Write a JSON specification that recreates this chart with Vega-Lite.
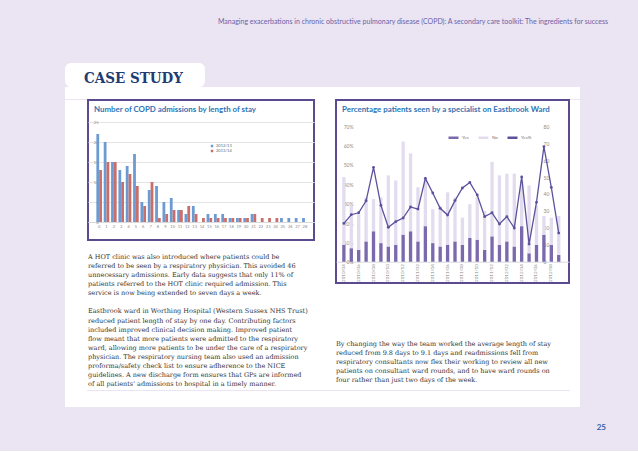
{
  "$schema": "https://vega.github.io/schema/vega-lite/v6.json",
  "background": "#ebe4f3",
  "padding": {"left": 65, "top": 18, "right": 30, "bottom": 19},
  "title": {
    "text": "Managing exacerbations in chronic obstructive pulmonary disease (COPD): A secondary care toolkit: The ingredients for success",
    "anchor": "end", "orient": "top", "offset": 38, "dx": 2,
    "font": "Lato", "fontSize": 7, "fontWeight": "normal", "color": "#6a63a8"
  },
  "config": {
    "view": {"stroke": null},
    "font": "Lato",
    "axis": {"labelFont": "Lato"},
    "legend": {"labelFont": "Lato"}
  },
  "datasets": {
    "tab": [{"label": "CASE STUDY", "slot": "tab"}],
    "los": [
      {"los": 0, "year": "2012/13", "n": 22}, {"los": 0, "year": "2013/14", "n": 13},
      {"los": 1, "year": "2012/13", "n": 20}, {"los": 1, "year": "2013/14", "n": 15},
      {"los": 2, "year": "2012/13", "n": 15}, {"los": 2, "year": "2013/14", "n": 15},
      {"los": 3, "year": "2012/13", "n": 13}, {"los": 3, "year": "2013/14", "n": 10},
      {"los": 4, "year": "2012/13", "n": 14}, {"los": 4, "year": "2013/14", "n": 12},
      {"los": 5, "year": "2012/13", "n": 17}, {"los": 5, "year": "2013/14", "n": 9},
      {"los": 6, "year": "2012/13", "n": 5}, {"los": 6, "year": "2013/14", "n": 4},
      {"los": 7, "year": "2012/13", "n": 8}, {"los": 7, "year": "2013/14", "n": 10},
      {"los": 8, "year": "2012/13", "n": 9}, {"los": 8, "year": "2013/14", "n": 1},
      {"los": 9, "year": "2012/13", "n": 5}, {"los": 9, "year": "2013/14", "n": 2},
      {"los": 10, "year": "2012/13", "n": 6}, {"los": 10, "year": "2013/14", "n": 3},
      {"los": 11, "year": "2012/13", "n": 3}, {"los": 11, "year": "2013/14", "n": 3},
      {"los": 12, "year": "2012/13", "n": 2}, {"los": 12, "year": "2013/14", "n": 4},
      {"los": 13, "year": "2012/13", "n": 4}, {"los": 13, "year": "2013/14", "n": 2},
      {"los": 14, "year": "2013/14", "n": 1},
      {"los": 15, "year": "2012/13", "n": 2}, {"los": 15, "year": "2013/14", "n": 1},
      {"los": 16, "year": "2012/13", "n": 2}, {"los": 16, "year": "2013/14", "n": 1},
      {"los": 17, "year": "2012/13", "n": 2}, {"los": 17, "year": "2013/14", "n": 1},
      {"los": 18, "year": "2012/13", "n": 1}, {"los": 18, "year": "2013/14", "n": 1},
      {"los": 19, "year": "2012/13", "n": 1}, {"los": 19, "year": "2013/14", "n": 1},
      {"los": 20, "year": "2012/13", "n": 1}, {"los": 20, "year": "2013/14", "n": 1},
      {"los": 21, "year": "2012/13", "n": 2}, {"los": 21, "year": "2013/14", "n": 2},
      {"los": 22, "year": "2013/14", "n": 1},
      {"los": 23, "year": "2013/14", "n": 1},
      {"los": 24, "year": "2013/14", "n": 1},
      {"los": 25, "year": "2012/13", "n": 1},
      {"los": 26, "year": "2012/13", "n": 1},
      {"los": 27, "year": "2012/13", "n": 1},
      {"los": 28, "year": "2012/13", "n": 1}
    ],
    "ward": [
      {"month": "2010/04", "Yes": 10, "No": 40, "YesPct": 19.8},
      {"month": "2010/05", "Yes": 8, "No": 25, "YesPct": 24.3},
      {"month": "2010/06", "Yes": 7, "No": 21, "YesPct": 25.3},
      {"month": "2010/07", "Yes": 12, "No": 26, "YesPct": 31.5},
      {"month": "2010/08", "Yes": 18, "No": 19, "YesPct": 48.8},
      {"month": "2010/09", "Yes": 11, "No": 27, "YesPct": 29.1},
      {"month": "2010/10", "Yes": 9, "No": 42, "YesPct": 17.8},
      {"month": "2010/11", "Yes": 10, "No": 38, "YesPct": 20.7},
      {"month": "2010/12", "Yes": 16, "No": 55, "YesPct": 22.6},
      {"month": "2011/01", "Yes": 18, "No": 46, "YesPct": 28.3},
      {"month": "2011/02", "Yes": 12, "No": 32, "YesPct": 27.2},
      {"month": "2011/03", "Yes": 21, "No": 28, "YesPct": 43.1},
      {"month": "2011/04", "Yes": 11, "No": 20, "YesPct": 35.5},
      {"month": "2011/05", "Yes": 9, "No": 24, "YesPct": 27.6},
      {"month": "2011/06", "Yes": 10, "No": 31, "YesPct": 24.1},
      {"month": "2011/07", "Yes": 12, "No": 26, "YesPct": 31.6},
      {"month": "2011/08", "Yes": 10, "No": 16, "YesPct": 38.1},
      {"month": "2011/09", "Yes": 14, "No": 20, "YesPct": 41.0},
      {"month": "2011/10", "Yes": 13, "No": 25, "YesPct": 34.5},
      {"month": "2011/11", "Yes": 7, "No": 23, "YesPct": 23.3},
      {"month": "2011/12", "Yes": 15, "No": 44, "YesPct": 25.3},
      {"month": "2012/01", "Yes": 10, "No": 41, "YesPct": 19.5},
      {"month": "2012/02", "Yes": 12, "No": 40, "YesPct": 23.3},
      {"month": "2012/03", "Yes": 9, "No": 43, "YesPct": 17.4},
      {"month": "2012/04", "Yes": 21, "No": 27, "YesPct": 43.8},
      {"month": "2012/05", "Yes": 5, "No": 40, "YesPct": 9.1},
      {"month": "2012/06", "Yes": 10, "No": 23, "YesPct": 30.7},
      {"month": "2012/07", "Yes": 16, "No": 11, "YesPct": 59.5},
      {"month": "2012/08", "Yes": 10, "No": 16, "YesPct": 38.4},
      {"month": "2012/09", "Yes": 4, "No": 23, "YesPct": 14.8}
    ],
    "leftText": [
      {"block": "left", "line": 1, "text": "A HOT clinic was also introduced where patients could be"},
      {"block": "left", "line": 2, "text": "referred to be seen by a respiratory physician. This avoided 46"},
      {"block": "left", "line": 3, "text": "unnecessary admissions. Early data suggests that only 11% of"},
      {"block": "left", "line": 4, "text": "patients referred to the HOT clinic required admission. This"},
      {"block": "left", "line": 5, "text": "service is now being extended to seven days a week."},
      {"block": "left", "line": 6, "text": ""},
      {"block": "left", "line": 7, "text": "Eastbrook ward in Worthing Hospital (Western Sussex NHS Trust)"},
      {"block": "left", "line": 8, "text": "reduced patient length of stay by one day. Contributing factors"},
      {"block": "left", "line": 9, "text": "included improved clinical decision making. Improved patient"},
      {"block": "left", "line": 10, "text": "flow meant that more patients were admitted to the respiratory"},
      {"block": "left", "line": 11, "text": "ward, allowing more patients to be under the care of a respiratory"},
      {"block": "left", "line": 12, "text": "physician. The respiratory nursing team also used an admission"},
      {"block": "left", "line": 13, "text": "proforma/safety check list to ensure adherence to the NICE"},
      {"block": "left", "line": 14, "text": "guidelines. A new discharge form ensures that GPs are informed"},
      {"block": "left", "line": 15, "text": "of all patients' admissions to hospital in a timely manner."}
    ],
    "rightText": [
      {"block": "right", "line": 1, "text": "By changing the way the team worked the average length of stay"},
      {"block": "right", "line": 2, "text": "reduced from 9.8 days to 9.1 days and readmissions fell from"},
      {"block": "right", "line": 3, "text": "respiratory consultants now flex their working to review all new"},
      {"block": "right", "line": 4, "text": "patients on consultant ward rounds, and to have ward rounds on"},
      {"block": "right", "line": 5, "text": "four rather than just two days of the week."}
    ]
  },
  "vconcat": [
    {
      "title": {
        "text": "25", "orient": "bottom", "anchor": "end", "offset": 17, "dx": 26,
        "font": "Lato", "fontSize": 8, "fontWeight": "bold", "color": "#2f5ea8"
      },
      "spacing": 0,
      "vconcat": [
        {
          "width": 140, "height": 24,
          "view": {"fill": "white", "stroke": null, "cornerRadius": 6},
          "data": {"name": "tab"},
          "mark": {"type": "text", "font": "DejaVu Serif Condensed, DejaVu Serif", "fontSize": 15, "fontWeight": "bold", "color": "#1f3c74", "align": "left", "baseline": "middle", "dy": 3},
          "encoding": {
            "text": {"field": "label"},
            "x": {"field": "slot", "type": "nominal", "scale": {"type": "point", "padding": 0, "align": 0.136}, "axis": null}
          }
        },
        {
          "width": 515, "height": 12,
          "view": {"fill": "white", "stroke": null},
          "data": {"values": []},
          "mark": {"type": "point", "opacity": 0},
          "encoding": {}
        },
        {
          "spacing": 0,
          "resolve": {"scale": {"color": "independent"}, "legend": {"color": "independent"}},
          "hconcat": [
            {
              "width": 22, "height": 291,
              "view": {"fill": "white", "stroke": null},
              "data": {"values": []},
              "mark": {"type": "point", "opacity": 0},
              "encoding": {}
            },
            {
              "spacing": 0,
              "vconcat": [
                {
                  "width": 226, "height": 140,
                  "view": {"fill": "white", "stroke": "#5b4a8f", "strokeWidth": 2},
                  "title": {
                    "text": "Number of COPD admissions by length of stay",
                    "anchor": "start", "orient": "top", "offset": -14, "dx": 6, "baseline": "top",
                    "font": "Lato", "fontSize": 7.9, "fontWeight": "bold", "color": "#2f74b5"
                  },
                  "data": {"name": "los"},
                  "mark": {"type": "bar"},
                  "encoding": {
                    "x": {
                      "field": "los", "type": "ordinal",
                      "scale": {"paddingInner": 0.24, "paddingOuter": 1.56, "align": 0.57},
                      "axis": {"title": null, "labelAngle": 0, "offset": -18, "domainColor": "#d9d9d9", "ticks": false,
                               "labelFontSize": 4, "labelColor": "#888888", "labelPadding": 2, "labelOverlap": false}
                    },
                    "xOffset": {"field": "year", "type": "nominal", "scale": {"paddingInner": 0}},
                    "y": {
                      "field": "n", "type": "quantitative", "stack": null,
                      "scale": {"domain": [-4.5, 30.5], "nice": false, "zero": false},
                      "axis": {"title": null, "values": [0, 5, 10, 15, 20, 25], "offset": -12, "domain": false, "ticks": false,
                               "labelFontSize": 4, "labelColor": "#888888", "labelPadding": 2, "gridColor": "#e4e4e4"}
                    },
                    "color": {
                      "field": "year", "type": "nominal",
                      "scale": {"domain": ["2012/13", "2013/14"], "range": ["#6b9bd2", "#c86f6b"]},
                      "legend": {"title": null, "orient": "none", "legendX": 122, "legendY": 44, "labelFontSize": 4,
                                 "symbolType": "square", "symbolSize": 6, "rowPadding": 1, "labelOffset": 2, "labelColor": "#666666"}
                    }
                  }
                },
                {
                  "width": 226, "height": 8,
                  "view": {"fill": "white", "stroke": "white", "strokeWidth": 2},
                  "data": {"values": []},
                  "mark": {"type": "point", "opacity": 0},
                  "encoding": {}
                },
                {
                  "width": 226, "height": 137,
                  "view": {"fill": "white", "stroke": "white", "strokeWidth": 2},
                  "data": {"name": "leftText"},
                  "mark": {"type": "text", "align": "left", "baseline": "middle", "font": "DejaVu Serif", "fontSize": 6.5, "color": "#333333"},
                  "encoding": {
                    "x": {"field": "block", "type": "nominal", "scale": {"type": "point", "padding": 0, "align": 0}, "axis": null},
                    "y": {"field": "line", "type": "ordinal", "scale": {"type": "point", "padding": 0.5}, "axis": null},
                    "text": {"field": "text"}
                  }
                }
              ]
            },
            {
              "width": 18, "height": 289,
              "view": {"fill": "white", "stroke": "white", "strokeWidth": 2},
              "data": {"values": []},
              "mark": {"type": "point", "opacity": 0},
              "encoding": {}
            },
            {
              "spacing": 0,
              "vconcat": [
                {
                  "width": 233, "height": 183,
                  "view": {"fill": "white", "stroke": "#5b4a8f", "strokeWidth": 2},
                  "title": {
                    "text": "Percentage patients seen by a specialist on Eastbrook Ward",
                    "anchor": "start", "orient": "top", "offset": -14, "dx": 6, "baseline": "top",
                    "font": "Lato", "fontSize": 7.9, "fontWeight": "bold", "color": "#2f74b5"
                  },
                  "data": {"name": "ward"},
                  "encoding": {
                    "x": {
                      "field": "month", "type": "ordinal",
                      "scale": {"type": "band", "paddingInner": 0.55, "paddingOuter": 4.63, "align": 0.419},
                      "axis": {"title": null, "labelAngle": -90, "offset": -21.3, "domainColor": "#d9d9d9", "ticks": false,
                               "labelFontSize": 4.5, "labelColor": "#888888", "labelPadding": 2,
                               "values": ["2010/04", "2010/06", "2010/08", "2010/10", "2010/12", "2011/02", "2011/04", "2011/06", "2011/08", "2011/10", "2011/12", "2012/02", "2012/04", "2012/06", "2012/08"]}
                    }
                  },
                  "layer": [
                    {
                      "transform": [{"fold": ["Yes", "No"], "as": ["series", "count"]}],
                      "mark": {"type": "bar"},
                      "encoding": {
                        "y": {
                          "field": "count", "type": "quantitative", "stack": "zero",
                          "scale": {"domain": [-12.56, 95.51], "nice": false, "zero": false},
                          "axis": {"orient": "right", "title": null, "values": [0, 10, 20, 30, 40, 50, 60, 70, 80], "offset": -29,
                                   "grid": false, "domain": false, "ticks": false, "labelFontSize": 5, "labelColor": "#8c8c8c", "labelPadding": 3}
                        },
                        "color": {
                          "field": "series", "type": "nominal",
                          "scale": {"domain": ["Yes", "No", "Yes%"], "range": ["#7b69ad", "#e3dcef", "#5b529c"]},
                          "legend": {"title": null, "orient": "none", "direction": "horizontal", "legendX": 111, "legendY": 31,
                                     "labelFontSize": 4.5, "labelColor": "#777777", "symbolType": "stroke", "symbolSize": 100,
                                     "symbolStrokeWidth": 2.5, "columnPadding": 4, "labelOffset": 2}
                        },
                        "order": {"field": "series", "sort": "descending"}
                      }
                    },
                    {
                      "mark": {"type": "line", "strokeWidth": 1.3, "point": {"filled": true, "size": 8}},
                      "encoding": {
                        "y": {
                          "field": "YesPct", "type": "quantitative",
                          "scale": {"domain": [-11.0, 83.59], "nice": false, "zero": false},
                          "axis": {"orient": "left", "title": null, "values": [0, 10, 20, 30, 40, 50, 60, 70], "offset": -20,
                                   "labelExpr": "datum.value + '%'", "domain": false, "ticks": false, "labelFontSize": 5,
                                   "labelColor": "#8c8c8c", "labelPadding": 3, "gridColor": "#e4e4e4"}
                        },
                        "color": {"datum": "Yes%"}
                      }
                    }
                  ],
                  "resolve": {"scale": {"y": "independent"}}
                },
                {
                  "width": 233, "height": 52,
                  "view": {"fill": "white", "stroke": "white", "strokeWidth": 2},
                  "data": {"values": []},
                  "mark": {"type": "point", "opacity": 0},
                  "encoding": {}
                },
                {
                  "width": 233, "height": 46,
                  "view": {"fill": "white", "stroke": "white", "strokeWidth": 2},
                  "data": {"name": "rightText"},
                  "mark": {"type": "text", "align": "left", "baseline": "middle", "font": "DejaVu Serif", "fontSize": 6.5, "color": "#333333"},
                  "encoding": {
                    "x": {"field": "block", "type": "nominal", "scale": {"type": "point", "padding": 0, "align": 0}, "axis": null},
                    "y": {"field": "line", "type": "ordinal", "scale": {"type": "point", "padding": 0.5}, "axis": null},
                    "text": {"field": "text"}
                  }
                },
                {
                  "width": 233, "height": 2,
                  "view": {"fill": "white", "stroke": "white", "strokeWidth": 2},
                  "data": {"values": []},
                  "mark": {"type": "point", "opacity": 0},
                  "encoding": {}
                }
              ]
            },
            {
              "width": 10, "height": 291,
              "view": {"fill": "white", "stroke": null},
              "data": {"values": []},
              "mark": {"type": "point", "opacity": 0},
              "encoding": {}
            }
          ]
        },
        {
          "width": 515, "height": 16,
          "view": {"fill": "white", "stroke": null},
          "data": {"values": []},
          "mark": {"type": "point", "opacity": 0},
          "encoding": {}
        }
      ]
    }
  ]
}
